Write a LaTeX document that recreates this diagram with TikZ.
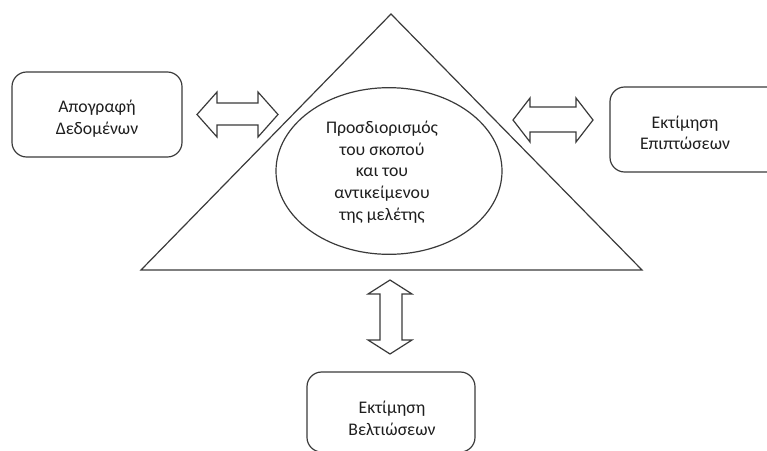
\documentclass[tikz,border=0pt]{standalone}
\usepackage{fontspec}
\setmainfont{Carlito}
\usetikzlibrary{shapes.geometric}
\definecolor{inkline}{HTML}{3A3A3A}
\definecolor{inktext}{HTML}{1E1E1E}
\begin{document}
\begin{tikzpicture}[x=0.75pt,y=-0.75pt,
  outline/.style={draw=inkline,line width=0.9pt,line join=miter},
  roundbox/.style={outline,rectangle,rounded corners=11pt,inner sep=0pt},
  label/.style={text=inktext,align=center,font=\fontsize{13.3}{16.2}\selectfont,inner sep=0pt},
  fatarrow/.style={outline,fill=white}]
\useasboundingbox (0,0) rectangle (767,450);
\clip (0,0) rectangle (767,450);

% central triangle with the goal ellipse
\draw[outline] (391,14) -- (642,270) -- (141,270) -- cycle;
\node[outline,ellipse,minimum width=169.5pt,minimum height=125pt,inner sep=0pt] (goal) at (389,171) {};
\node[label] (goaltext) at (382,172) {Προσδιορισμός\\του σκοπού\\και του\\αντικείμενου\\της μελέτης};

% surrounding boxes
\node[roundbox,minimum width=127.5pt,minimum height=63.75pt] (inventory) at (97,114.5) {};
\node[label] (inventorytext) at (97,118.5) {Απογραφή\\Δεδομένων};

\node[roundbox,minimum width=142.5pt,minimum height=63.75pt] (impacts) at (705,129.5) {};
\node[label] (impactstext) at (685,133) {Εκτίμηση\\Επιπτώσεων};

\node[roundbox,minimum width=126pt,minimum height=60pt] (improve) at (391,412) {};
\node[label] (improvetext) at (392,418.5) {Εκτίμηση\\Βελτιώσεων};

% hollow two-way arrows
\draw[fatarrow] (197,114.5) -- (217,92) -- (217,103) -- (258,103) -- (258,92) -- (278,114.5)
  -- (258,137) -- (258,125) -- (217,125) -- (217,137) -- cycle;
\draw[fatarrow] (513,120) -- (530,98) -- (530,107) -- (576,107) -- (576,98) -- (593,120)
  -- (576,142) -- (576,132) -- (530,132) -- (530,142) -- cycle;
\draw[fatarrow] (390,280) -- (412,294) -- (402,294) -- (402,340) -- (412,340) -- (390,354)
  -- (368,340) -- (380,340) -- (380,294) -- (368,294) -- cycle;
\end{tikzpicture}
\end{document}
